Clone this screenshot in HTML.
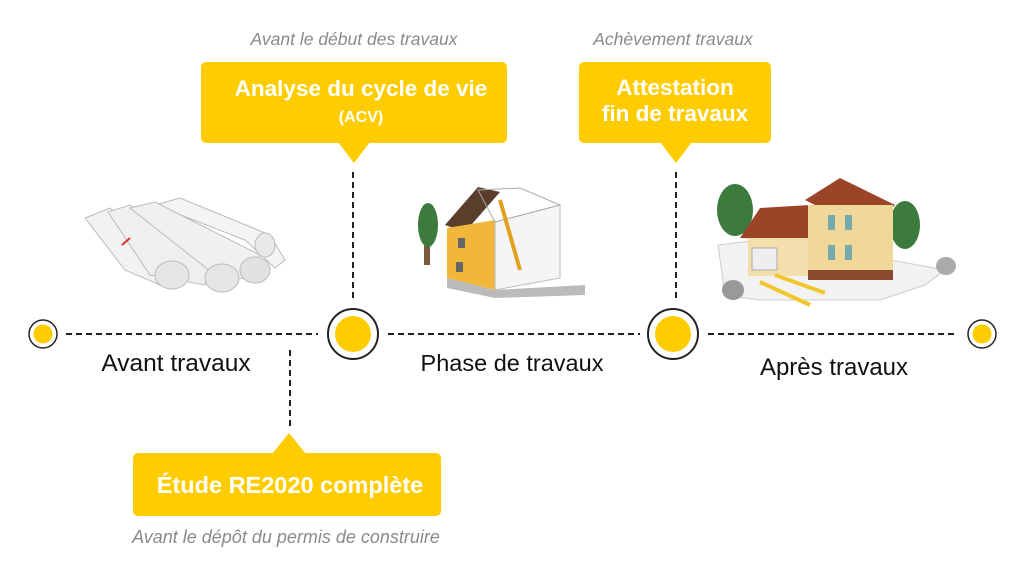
<!DOCTYPE html>
<html><head><meta charset="utf-8"><style>
html,body{margin:0;padding:0;background:#fff;width:1024px;height:581px;overflow:hidden}
svg{display:block}
text{font-family:"Liberation Sans",sans-serif}
</style></head><body>
<svg width="1024" height="581" viewBox="0 0 1024 581" xmlns="http://www.w3.org/2000/svg">
<g stroke="#222" stroke-width="2" stroke-dasharray="6,4" fill="none">
<line x1="66" y1="334" x2="318" y2="334"/>
<line x1="388" y1="334" x2="640" y2="334"/>
<line x1="708" y1="334" x2="955" y2="334"/>
<line x1="353" y1="172" x2="353" y2="300"/>
<line x1="676" y1="172" x2="676" y2="300"/>
<line x1="290" y1="350" x2="290" y2="426"/>
</g>
<circle cx="43" cy="334" r="14" fill="#fff" stroke="#222" stroke-width="1.5"/>
<circle cx="43" cy="334" r="9.5" fill="#FFCC00"/>
<circle cx="353" cy="334" r="25" fill="#fff" stroke="#222" stroke-width="2"/>
<circle cx="353" cy="334" r="18" fill="#FFCC00"/>
<circle cx="673" cy="334" r="25" fill="#fff" stroke="#222" stroke-width="2"/>
<circle cx="673" cy="334" r="18" fill="#FFCC00"/>
<circle cx="982" cy="334" r="14" fill="#fff" stroke="#222" stroke-width="1.5"/>
<circle cx="982" cy="334" r="9.5" fill="#FFCC00"/>
<text x="176" y="371" font-size="24.5" text-anchor="middle" fill="#111">Avant travaux</text>
<text x="512" y="371" font-size="23.5" text-anchor="middle" fill="#111">Phase de travaux</text>
<text x="834" y="375" font-size="24" text-anchor="middle" fill="#111">Après travaux</text>
<text x="354" y="45" font-size="17.5" font-style="italic" text-anchor="middle" fill="#8a8a8a">Avant le début des travaux</text>
<rect x="201" y="62" width="306" height="81" rx="5" fill="#FFCC00"/>
<polygon points="338,142 370,142 354,163" fill="#FFCC00"/>
<text x="361" y="96" font-size="22.5" font-weight="bold" text-anchor="middle" fill="#fff">Analyse du cycle de vie</text>
<text x="361" y="122" font-size="16" font-weight="bold" text-anchor="middle" fill="#fff">(ACV)</text>
<text x="673" y="45" font-size="17.5" font-style="italic" text-anchor="middle" fill="#8a8a8a">Achèvement travaux</text>
<rect x="579" y="62" width="192" height="81" rx="5" fill="#FFCC00"/>
<polygon points="660,142 692,142 676,163" fill="#FFCC00"/>
<text x="675" y="95" font-size="22.5" font-weight="bold" text-anchor="middle" fill="#fff">Attestation</text>
<text x="675" y="121" font-size="22.5" font-weight="bold" text-anchor="middle" fill="#fff">fin de travaux</text>
<rect x="133" y="453" width="308" height="63" rx="5" fill="#FFCC00"/>
<polygon points="272,454 306,454 289,433" fill="#FFCC00"/>
<text x="290" y="493" font-size="23.5" font-weight="bold" text-anchor="middle" fill="#fff">Étude RE2020 complète</text>
<text x="286" y="543" font-size="18" font-style="italic" text-anchor="middle" fill="#8a8a8a">Avant le dépôt du permis de construire</text>

<g stroke="#bbb" stroke-width="1">
<polygon points="155,205 180,198 270,235 285,260 275,268 245,240" fill="#f4f4f4"/>
<polygon points="85,218 110,208 170,265 160,285 125,270" fill="#f2f2f2"/>
<polygon points="108,212 130,205 215,265 205,285 150,275" fill="#efefef"/>
<polygon points="130,208 155,202 260,255 255,280 215,275" fill="#f0f0f0"/>
<ellipse cx="172" cy="275" rx="17" ry="14" fill="#e6e6e6"/>
<ellipse cx="222" cy="278" rx="17" ry="14" fill="#e6e6e6"/>
<ellipse cx="255" cy="270" rx="15" ry="13" fill="#e2e2e2"/>
<ellipse cx="265" cy="245" rx="10" ry="12" fill="#e8e8e8"/>
</g>
<line x1="122" y1="245" x2="130" y2="238" stroke="#d33" stroke-width="2"/>

<g>
<rect x="424" y="205" width="6" height="60" fill="#7a5a3a"/>
<ellipse cx="428" cy="225" rx="10" ry="22" fill="#3d7a3d"/>
<polygon points="445,225 478,187 500,192 465,232" fill="#5a3e2b"/>
<polygon points="447,228 495,220 495,290 447,278" fill="#F0B73A"/>
<polygon points="495,222 560,205 560,278 495,290" fill="#f5f5f5" stroke="#bbb"/>
<polygon points="478,190 520,188 560,205 495,222" fill="none" stroke="#aaa"/>
<line x1="500" y1="200" x2="520" y2="270" stroke="#e0a020" stroke-width="4"/>
<polygon points="447,278 495,290 585,285 585,295 495,298 447,288" fill="#bbb"/>
<rect x="458" y="238" width="7" height="10" fill="#666"/>
<rect x="456" y="262" width="7" height="10" fill="#666"/>
</g>

<g>
<ellipse cx="735" cy="210" rx="18" ry="26" fill="#3d7a3d"/>
<ellipse cx="905" cy="225" rx="15" ry="24" fill="#3d7a3d"/>
<polygon points="718,245 760,240 880,258 945,270 925,285 880,300 760,300 725,295" fill="#f2f2f2" stroke="#ccc"/>
<ellipse cx="733" cy="290" rx="11" ry="10" fill="#999"/>
<ellipse cx="946" cy="266" rx="10" ry="9" fill="#aaa"/>
<polygon points="740,238 760,208 810,205 815,240" fill="#9c4428"/>
<polygon points="805,200 840,178 895,205 880,220 835,215" fill="#9c4428"/>
<rect x="748" y="238" width="60" height="38" fill="#f3dfae"/>
<rect x="808" y="205" width="85" height="75" fill="#f0d79a"/>
<rect x="752" y="248" width="25" height="22" fill="#eee" stroke="#aaa"/>
<rect x="828" y="215" width="7" height="15" fill="#7aa"/>
<rect x="845" y="215" width="7" height="15" fill="#7aa"/>
<rect x="828" y="245" width="7" height="15" fill="#7aa"/>
<rect x="845" y="245" width="7" height="15" fill="#7aa"/>
<rect x="808" y="270" width="85" height="10" fill="#8a4a30"/>
<line x1="760" y1="282" x2="810" y2="305" stroke="#f2c72e" stroke-width="4"/>
<line x1="775" y1="275" x2="825" y2="293" stroke="#f2c72e" stroke-width="4"/>
</g>
</svg>
</body></html>
